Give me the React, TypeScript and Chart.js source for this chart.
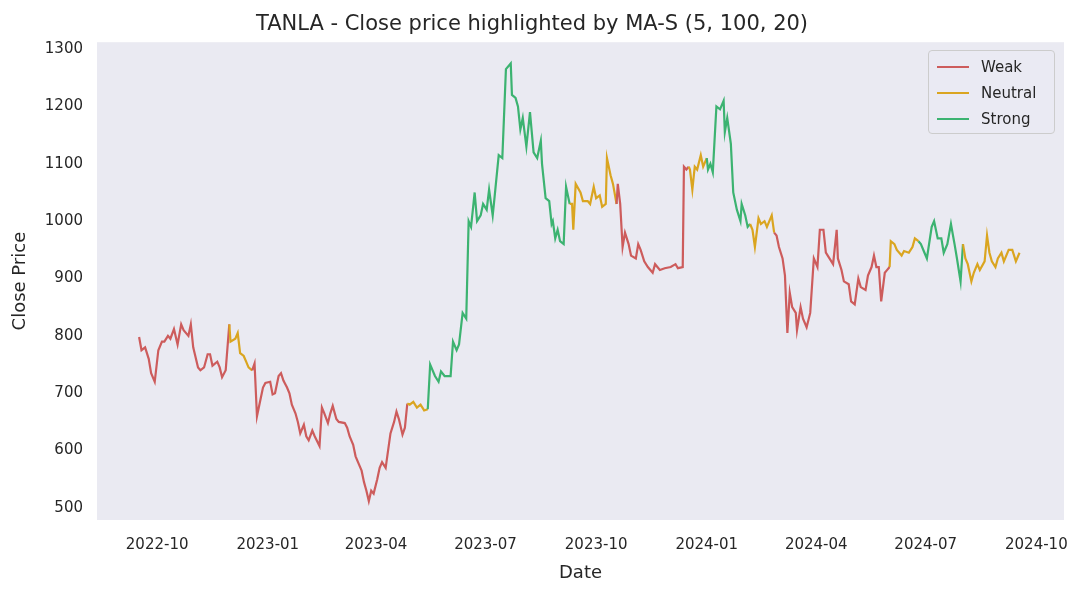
import { useEffect, useRef } from "react";
import Chart from "chart.js/auto";

// days since 2022-10-01
const days = [
  -15, -13, -10, -7, -5, -2, 1, 4, 6, 9, 11, 14, 17, 20, 22, 26, 28, 30, 34, 36, 39, 42, 44, 46, 50, 52, 54, 57, 60,
  61, 65, 67, 69, 72, 74, 76, 79,
  81, 83, 86, 88, 90, 94, 96, 98, 101, 103, 105, 108, 110, 112, 115, 117, 119, 122, 124, 126, 129, 131, 135, 137,
  139, 142, 144, 146, 149, 151, 156, 158, 160, 163, 165, 167, 170, 172, 174, 176, 178, 180, 183, 185, 187, 190,
  192, 194, 197, 199, 201, 204, 206, 208,
  210, 213, 216, 219, 222, 225,
  227, 231, 234, 236, 239, 244, 246, 249, 251, 254, 257, 259, 261, 264, 266, 269, 271, 274, 276, 279, 280, 284,
  287, 290, 294, 295, 298, 300, 302, 304, 307, 310, 313, 316, 319, 320, 323, 326, 328, 329, 331, 333, 335, 338,
  340, 343,
  345, 346, 348, 352, 354, 358, 360, 363, 365, 368, 370, 373, 374, 377, 379, 382,
  383, 385, 387, 389, 392, 394, 398, 400, 402, 405, 408, 412, 414, 418, 422, 427, 431, 433, 437, 438, 440, 442,
  443, 445, 447, 449, 452, 454, 457,
  458, 460, 462, 465, 468, 471, 472, 474, 477, 479, 482, 485, 486, 489, 491, 493,
  495, 497, 500, 502, 505, 507, 511, 513,
  515, 517, 520, 522, 524, 526, 528, 531, 532, 535, 537, 540, 543, 546, 549, 551, 554, 556, 559, 562, 565, 566,
  569, 571, 575, 577, 580, 583, 585, 589, 591, 594, 596, 598, 600, 602, 605, 607, 609,
  610, 613, 615, 619, 621, 625, 628, 630, 633,
  635, 638, 640, 644, 646, 649, 652, 654, 657, 660, 663, 665, 668, 670,
  672, 674, 677, 679, 682, 684, 688, 690, 692, 694, 697, 699, 702, 704, 708, 711, 714, 717,
];

const close = [
  798, 775, 780, 760, 735, 720, 775, 790, 790, 800, 795, 812, 785, 820, 810, 800, 820, 780, 745, 740, 745, 768, 768, 748, 755, 745, 728, 740, 820,
  790, 795, 805, 770, 765, 755, 745, 740,
  752, 660, 690, 710, 718, 720, 698, 700, 730, 735, 722, 710, 700, 680, 665, 650, 630, 645, 625, 618, 635, 625, 608, 675,
  665, 648, 665, 678, 655, 650, 648, 640, 625, 610, 590, 580, 565, 545, 530, 512, 530, 525, 550, 570, 580, 570,
  600, 630, 650, 668, 655, 628, 640, 682,
  680, 685, 675, 680, 670, 672,
  750, 730, 720, 738, 730, 730, 790, 775, 785, 840, 830, 1000, 990, 1050, 1000, 1010, 1030, 1020, 1055, 1010, 1030, 1115,
  1110, 1265, 1275, 1220, 1215, 1200, 1160, 1180, 1130, 1190, 1120, 1110, 1140, 1100, 1040, 1035, 995, 1000, 970, 985, 965, 960,
  1060, 1030,
  1030, 985, 1065, 1050, 1035, 1035, 1030, 1060, 1040, 1045, 1025, 1030, 1110, 1080, 1065, 1030,
  1065, 1030, 955, 980, 960, 940, 935, 960, 950, 930, 920, 910, 925, 915, 918, 920, 925, 918, 920, 1095, 1090, 1095,
  1090, 1055, 1095, 1090, 1115, 1095, 1110,
  1090, 1100, 1085, 1200, 1195, 1210, 1155, 1180, 1135, 1050, 1020, 1000, 1030, 1010, 990, 995,
  985, 955, 1005, 995, 1000, 990, 1010, 980,
  975, 955, 935, 905, 805, 875, 850, 840, 810, 850, 830, 815, 840, 935, 920, 985, 985, 945, 935, 925, 985, 935,
  915, 895, 890, 860, 855, 900, 885, 880, 905, 920, 940, 920, 920, 860, 910, 915, 920,
  965, 960, 950, 940, 948, 945, 955, 970, 965,
  960, 945, 935, 990, 1000, 970, 970, 945, 960, 995, 960, 935, 895, 960,
  935, 925, 895, 910, 925, 915, 930, 975, 945, 930, 920, 935, 945, 930, 950, 950, 930, 945,
];

// regime in force from each start day
const regimeStartDays = [-15, 61, 81, 210, 227, 345, 383, 443, 458, 495, 515, 610, 635, 672];
const regimeNames = ["Weak", "Neutral", "Weak", "Neutral", "Strong", "Neutral", "Weak", "Neutral", "Strong", "Neutral", "Weak", "Neutral", "Strong", "Neutral"];

const xTickLabels = ["2022-10", "2023-01", "2023-04", "2023-07", "2023-10", "2024-01", "2024-04", "2024-07", "2024-10"];

const regimeColors: Record<string, string> = {
  Weak: "#cd5c5c",
  Neutral: "#daa520",
  Strong: "#3cb371",
};

const origin = Date.UTC(2022, 9, 1);
const toDay = (label: string) => {
  const [y, m] = label.split("-").map(Number);
  return Math.round((Date.UTC(y, m - 1, 1) - origin) / 86400000);
};
const regimeAt = (d: number) => {
  let r = regimeNames[0];
  regimeStartDays.forEach((s, i) => {
    if (d >= s) r = regimeNames[i];
  });
  return r;
};

const textColor = "#262626";
const font = "'DejaVu Sans', sans-serif";

const plotBg = {
  id: "plotBg",
  beforeDraw: (chart: Chart) => {
    const { ctx, chartArea } = chart;
    ctx.save();
    ctx.fillStyle = "#eaeaf2";
    ctx.fillRect(chartArea.left, chartArea.top, chartArea.right - chartArea.left, chartArea.bottom - chartArea.top);
    ctx.restore();
  },
};

export default function App() {
  const canvasRef = useRef<HTMLCanvasElement | null>(null);

  useEffect(() => {
    if (!canvasRef.current) return;
    const chart = new Chart(canvasRef.current, {
      type: "line",
      data: {
        datasets: [
          {
            data: days.map((d, i) => ({ x: d, y: close[i] })),
            borderWidth: 2.2,
            pointRadius: 0,
            segment: {
              borderColor: (ctx: any) => regimeColors[regimeAt(ctx.p1.parsed.x)],
            },
          },
        ],
      },
      options: {
        animation: false,
        responsive: false,
        layout: { padding: { left: 0, right: 18, top: 0, bottom: 0 } },
        plugins: {
          legend: { display: false },
          tooltip: { enabled: false },
          title: {
            display: true,
            text: "TANLA - Close price highlighted by MA-S (5, 100, 20)",
            color: textColor,
            font: { family: font, size: 21, weight: "normal" },
            padding: { top: 12, bottom: 5 },
          },
        },
        scales: {
          x: {
            type: "linear",
            min: -50,
            max: 754,
            grid: { display: false },
            border: { display: false },
            afterBuildTicks: (axis: any) => {
              axis.ticks = xTickLabels.map((l) => ({ value: toDay(l) }));
            },
            afterFit: (axis: any) => {
              axis.height = 72;
            },
            ticks: {
              color: textColor,
              font: { family: font, size: 15 },
              maxRotation: 0,
              autoSkip: false,
              padding: 8,
              callback: (v: any) => xTickLabels.find((l) => toDay(l) === v) ?? "",
            },
            title: {
              display: true,
              text: "Date",
              color: textColor,
              font: { family: font, size: 18 },
              padding: { top: 0, bottom: 8 },
            },
          },
          y: {
            min: 479,
            max: 1312,
            grid: { display: false },
            border: { display: false },
            afterBuildTicks: (axis: any) => {
              const t = [];
              for (let v = 500; v <= 1300; v += 100) t.push({ value: v });
              axis.ticks = t;
            },
            afterFit: (axis: any) => {
              axis.width = 97;
            },
            ticks: {
              color: textColor,
              font: { family: font, size: 15 },
              padding: 6,
              callback: (v: any) => String(v),
            },
            title: {
              display: true,
              text: "Close Price",
              color: textColor,
              font: { family: font, size: 18 },
              padding: { top: 10, bottom: 4 },
            },
          },
        },
      },
      plugins: [plotBg],
    });
    return () => chart.destroy();
  }, []);

  return (
    <div style={{ position: "fixed", left: 0, top: 0, width: 1082, height: 592, background: "#fff" }}>
      <canvas ref={canvasRef} width={1082} height={592} style={{ width: 1082, height: 592 }} />
      <div
        style={{
          position: "absolute",
          left: 928,
          top: 50,
          width: 127,
          height: 84,
          boxSizing: "border-box",
          border: "1px solid #cccccc",
          borderRadius: 4,
          background: "rgba(234,234,242,0.8)",
          fontFamily: font,
          fontSize: 15,
          color: textColor,
          padding: "3px 0 0 8px",
        }}
      >
        {["Weak", "Neutral", "Strong"].map((r) => (
          <div key={r} style={{ display: "flex", alignItems: "center", height: 26 }}>
            <span style={{ display: "inline-block", width: 32, height: 2.5, background: regimeColors[r], marginRight: 12 }} />
            {r}
          </div>
        ))}
      </div>
    </div>
  );
}
